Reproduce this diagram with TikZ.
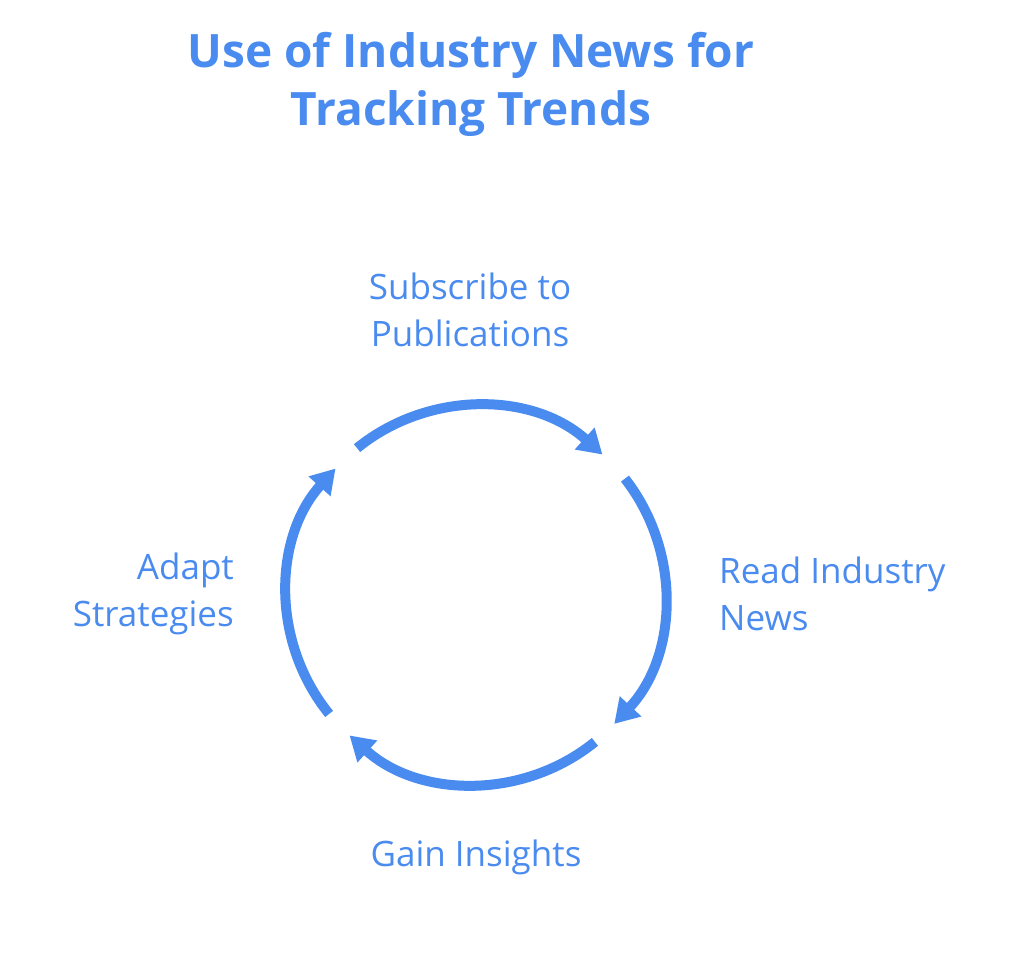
\documentclass[tikz,border=0pt]{standalone}
\usepackage{fontspec}
\setmainfont{Open Sans}
\usetikzlibrary{arrows.meta}
\definecolor{cb}{HTML}{4A8BF0}
\begin{document}
\begin{tikzpicture}[x=1pt,y=1pt,
  arc/.style={cb,line width=10pt,-{Triangle[length=24pt,width=28pt]}},
  lbl/.style={text=cb,font=\fontsize{35}{47}\selectfont,inner sep=0pt},
  ttl/.style={text=cb,font=\fontsize{46}{58}\selectfont\bfseries,inner sep=0pt,align=center}]
\useasboundingbox (0,0) rectangle (1024,976);
\coordinate (c) at (476,381);
\node[ttl] (title) at (471,892) {Use of Industry News for\\Tracking Trends};
\draw[arc] (c) ++(129:189) arc (129:48:189);
\draw[arc] (c) ++(38:189) arc (38:-43:189);
\draw[arc] (c) ++(-51:189) arc (-51:-132:189);
\draw[arc] (c) ++(-141:189) arc (-141:-222:189);
\node[lbl,align=center] (s) at (470,666) {Subscribe to\\Publications};
\node[lbl,align=left,anchor=west] (r) at (719,382) {Read Industry\\News};
\node[lbl,align=center] (g) at (476,119) {Gain Insights};
\node[lbl,align=right,anchor=east] (a) at (234,382) {Adapt\\Strategies};
\end{tikzpicture}
\end{document}
